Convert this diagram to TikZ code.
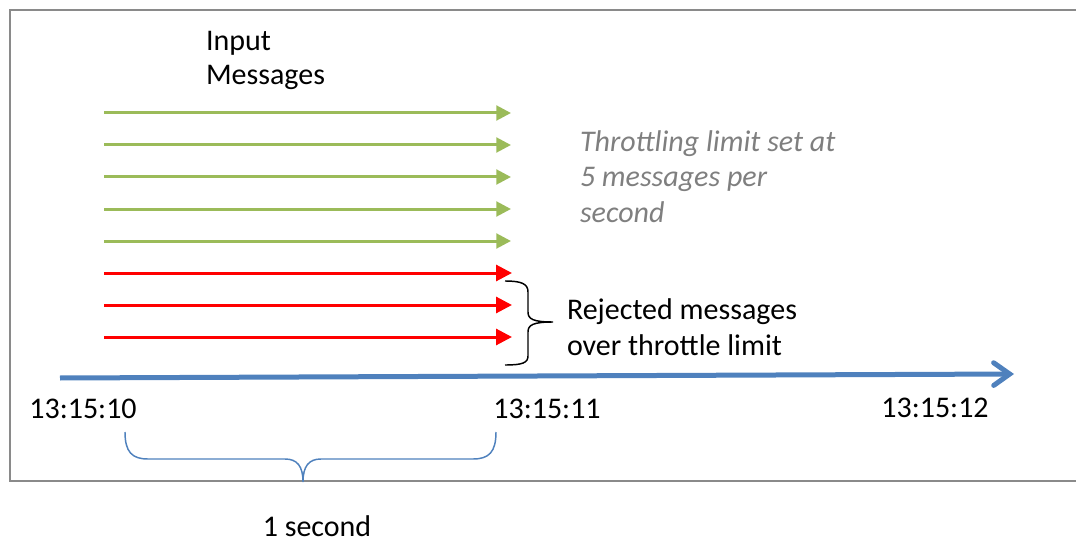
\documentclass[tikz,border=0pt]{standalone}
\usepackage{fontspec}
\setmainfont{Carlito}
\usetikzlibrary{arrows.meta}
\definecolor{msggreen}{HTML}{9BBB59}
\definecolor{msgred}{HTML}{FF0000}
\definecolor{axisblue}{HTML}{4F81BD}
\definecolor{framegray}{HTML}{8A8A8A}
\definecolor{notegray}{HTML}{7F7F7F}
\begin{document}
\begin{tikzpicture}[x=0.75pt,y=-0.75pt,
  lbl/.style={font=\fontsize{22.5}{26}\selectfont, inner sep=0pt, outer sep=0pt},
  msg/.style={line width=2.25pt, -{Triangle[length=11pt,width=11pt]}},
  okmsg/.style={msg, draw=msggreen},
  badmsg/.style={msg, draw=msgred, -{Triangle[length=12pt,width=12pt]}},
  timeaxis/.style={draw=axisblue, line width=3.75pt,
    -{Straight Barb[length=12pt,width=17pt,line cap=round]}},
  bracket/.style={line width=1.1pt}]
\useasboundingbox (0,0) rectangle (1076,542);

% outer frame (open to the right)
\draw[framegray, line width=1.5pt] (1090,10) -- (10,10) -- (10,481) -- (1090,481);

% accepted messages
\foreach \i/\y in {1/113,2/145,3/177,4/209,5/241}{
  \coordinate (ok\i s) at (104,\y);
  \coordinate (ok\i e) at (511,\y);
  \draw[okmsg] (ok\i s) -- (ok\i e);
}
% rejected messages
\foreach \i/\y in {1/273,2/305,3/337}{
  \coordinate (bad\i s) at (104,\y);
  \coordinate (bad\i e) at (512,\y);
  \draw[badmsg] (bad\i s) -- (bad\i e);
}

% time axis
\coordinate (axstart) at (60,378);
\coordinate (axend) at (1014,374);
\draw[timeaxis] (axstart) -- (axend);

% labels (multi-line nodes: base anchor sits on the last line)
\node[lbl, anchor=base west, align=left, font=\fontsize{22.5}{25.5}\selectfont]
  (input) at (206,85) {Input\\Messages};
\node[lbl, anchor=base west, align=left, text=notegray, font=\fontsize{22.5}{26.6}\selectfont\itshape]
  (note) at (580,222) {Throttling limit set at\\5 messages per\\second};
\node[lbl, anchor=base west, align=left, font=\fontsize{22.5}{27}\selectfont]
  (reject) at (567,355) {Rejected messages\\over throttle limit};
\node[lbl, anchor=base] (t10) at (83,418) {13:15:10};
\node[lbl, anchor=base] (t11) at (547,418) {13:15:11};
\node[lbl, anchor=base] (t12) at (935,417) {13:15:12};
\node[lbl, anchor=base] (onesec) at (317,536) {1 second};

% brace grouping the rejected messages
\draw[bracket, black] (505,281) .. controls (522,281) and (528,284) .. (528,292)
  -- (528,312) .. controls (528,319) and (533,322) .. (553,322)
  .. controls (533,322) and (528,325) .. (528,332)
  -- (528,356) .. controls (528,363) and (522,365) .. (505,365);

% brace spanning one second
\draw[bracket, axisblue] (125,432) .. controls (125,452) and (132,459) .. (148,459)
  -- (285,459) .. controls (297,459) and (303,466) .. (303,482)
  .. controls (303,466) and (309,459) .. (321,459)
  -- (473,459) .. controls (489,459) and (496,452) .. (496,432);
\end{tikzpicture}
\end{document}
